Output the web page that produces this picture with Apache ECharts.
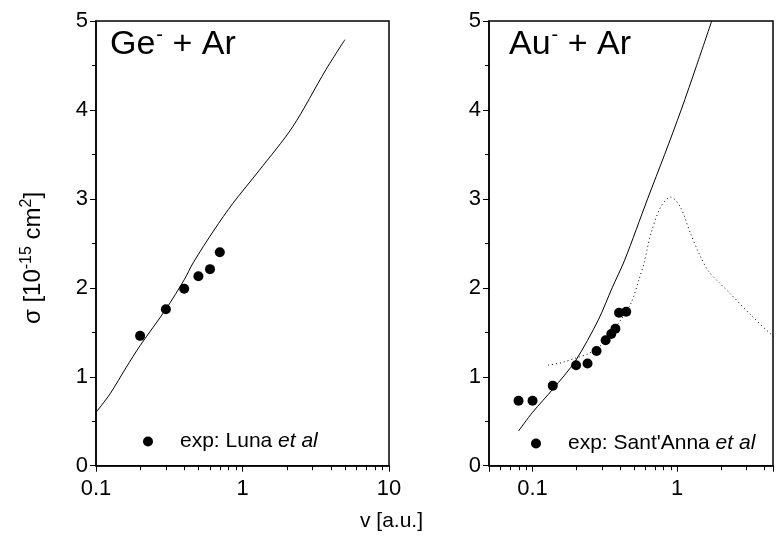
<!DOCTYPE html>
<html><head><meta charset="utf-8">
<script src="https://cdn.jsdelivr.net/npm/echarts@6/dist/echarts.min.js"></script>
<style>html,body{margin:0;padding:0;background:#fff}#c{width:776px;height:547px}</style>
</head><body><div id="c"></div>
<script>
// Ge- + Ar : theory (solid) and experiment (Luna et al)
const geTheoryV = [0.1, 0.125, 0.16, 0.2, 0.3, 0.4, 0.46, 0.64, 0.86, 1.3, 2.2, 3.7, 5];
const geTheoryS = [0.60, 0.81, 1.10, 1.35, 1.76, 2.09, 2.28, 2.65, 2.95, 3.32, 3.81, 4.45, 4.79];
const geExpV = [0.2, 0.3, 0.4, 0.5, 0.6, 0.7];
const geExpS = [1.46, 1.76, 1.99, 2.13, 2.21, 2.40];
// Au- + Ar : theory (solid), theory (dotted) and experiment (Sant'Anna et al)
const auTheoryV = [0.08, 0.1, 0.138, 0.198, 0.285, 0.355, 0.433, 0.624, 0.819, 1.065, 1.362, 1.732];
const auTheoryS = [0.39, 0.60, 0.86, 1.18, 1.64, 2.0, 2.31, 3.0, 3.5, 4.0, 4.5, 5.0];
const auDotV = [0.128, 0.16, 0.198, 0.244, 0.3, 0.35, 0.4, 0.48, 0.548, 0.59, 0.658, 0.77, 0.9, 1.05, 1.23, 1.44, 1.64, 2.0, 2.31, 3.16, 4.51, 5];
const auDotS = [1.13, 1.16, 1.21, 1.26, 1.36, 1.50, 1.62, 1.83, 2.11, 2.28, 2.61, 2.91, 3.02, 2.91, 2.62, 2.36, 2.19, 2.04, 1.94, 1.71, 1.47, 1.43];
const auExpV = [0.08, 0.1, 0.138, 0.2, 0.24, 0.277, 0.32, 0.35, 0.374, 0.396, 0.444];
const auExpS = [0.73, 0.73, 0.90, 1.13, 1.15, 1.29, 1.41, 1.48, 1.54, 1.72, 1.73];
// axis tick labels and minor tick positions
const yTickLabels = ['0', '1', '2', '3', '4', '5'];
const xTickLabels = ['0.1', '1', '10'];
const xMinorLeft = [0.2, 0.3, 0.4, 0.5, 0.6, 0.7, 0.8, 0.9, 2, 3, 4, 5, 6, 7, 8, 9];
const xMinorRight = [0.06, 0.07, 0.08, 0.09, 0.2, 0.3, 0.4, 0.5, 0.6, 0.7, 0.8, 0.9, 2, 3, 4];
const panelTitles = ['Ge', 'Au'];
const legendNames = ["exp: Luna ", "exp: Sant'Anna "];

const FONT = '"Liberation Sans", Arial, sans-serif';
const zip = (a, b) => a.map((v, i) => [v, b[i]]);

const chart = echarts.init(document.getElementById('c'), null, {renderer: 'canvas'});

function xAxisCfg(gi, min, max) {
  return {
    type: 'log', logBase: 10, gridIndex: gi, min: min, max: max,
    axisLine: {show: true, lineStyle: {color: '#000', width: 1.5}},
    axisTick: {show: true, inside: false, length: 6, lineStyle: {color: '#000', width: 1}},
    minorTick: {show: false},
    splitLine: {show: false}, minorSplitLine: {show: false},
    axisLabel: {
      fontFamily: FONT, fontSize: 22, color: '#000', margin: 12,
      formatter: v => {
        const s = xTickLabels.find(t => Math.abs(parseFloat(t) - v) < 1e-6);
        return s === undefined ? '' : s;
      }
    }
  };
}
function yAxisCfg(gi) {
  return {
    type: 'value', gridIndex: gi, min: 0, max: 5, interval: 1,
    axisLine: {show: true, lineStyle: {color: '#000', width: 1.5}},
    axisTick: {show: true, inside: false, length: 6, lineStyle: {color: '#000', width: 1}},
    minorTick: {show: true, splitNumber: 2, length: 4, lineStyle: {color: '#000', width: 1}},
    splitLine: {show: false},
    axisLabel: {fontFamily: FONT, fontSize: 22, color: '#000', margin: 8,
      formatter: v => yTickLabels[Math.round(v)]}
  };
}
function minorTicks(gi, vals) {
  return {
    type: 'custom', xAxisIndex: gi, yAxisIndex: gi, silent: true, clip: false, z: 5,
    data: vals.map(v => [v, 0]),
    renderItem: (params, api) => {
      const p = api.coord([api.value(0), api.value(1)]);
      const x = Math.round(p[0]) + 0.5;
      return {type: 'line', shape: {x1: x, y1: p[1], x2: x, y2: p[1] + 4.5},
              style: {stroke: '#000', lineWidth: 1}};
    }
  };
}
const titleRich = {
  a: {fontFamily: FONT, fontSize: 34, fontWeight: 'normal', color: '#000', lineHeight: 40},
  s: {fontFamily: FONT, fontSize: 20, fontWeight: 'normal', color: '#000', lineHeight: 20, verticalAlign: 'top', padding: [0, 0, 0, 1]}
};
const legRich = {
  n: {fontFamily: FONT, fontSize: 21, color: '#000', lineHeight: 24, padding: [0, 0, 0, 22]},
  i: {fontFamily: FONT, fontSize: 21, color: '#000', lineHeight: 24, fontStyle: 'italic'}
};
const yNameRich = {
  a: {fontFamily: FONT, fontSize: 24, color: '#000', lineHeight: 28},
  s: {fontFamily: FONT, fontSize: 16, color: '#000', lineHeight: 16, verticalAlign: 'top'}
};

chart.setOption({
  animation: false,
  backgroundColor: '#fff',
  grid: [
    {left: 96, top: 21, width: 293, height: 444.7, show: true, borderColor: '#000', borderWidth: 1.5, backgroundColor: 'transparent'},
    {left: 489, top: 21, width: 288, height: 444.7, show: true, borderColor: '#000', borderWidth: 1.5, backgroundColor: 'transparent'}
  ],
  title: [
    {text: '{a|' + panelTitles[0] + '}{s|-}{a| + Ar}', left: 110, top: 25, padding: 0, textStyle: {rich: titleRich}},
    {text: '{a|' + panelTitles[1] + '}{s|-}{a| + Ar}', left: 509, top: 25, padding: 0, textStyle: {rich: titleRich}}
  ],
  legend: [
    {data: [legendNames[0]], left: 143, top: 431, padding: 0, icon: 'circle', itemWidth: 10, itemHeight: 10,
     formatter: n => '{n|' + n + '}{i|et al}', textStyle: {rich: legRich}},
    {data: [legendNames[1]], left: 531, top: 433, padding: 0, icon: 'circle', itemWidth: 10, itemHeight: 10,
     formatter: n => '{n|' + n + '}{i|et al}', textStyle: {rich: legRich}}
  ],
  xAxis: [xAxisCfg(0, 0.1, 10), xAxisCfg(1, 0.05, 0.05 * Math.pow(10, 288 / 146.7))],
  yAxis: [yAxisCfg(0), yAxisCfg(1)],
  graphic: [
    {type: 'text', left: 360, top: 511, style: {text: 'v [a.u.]', font: '21px ' + FONT, fill: '#000'}},
    {type: 'text', x: 33, y: 258, rotation: Math.PI / 2,
     style: {text: '{a|σ [10}{s|-15}{a| cm}{s|2}{a|]}', align: 'center', verticalAlign: 'middle', rich: yNameRich}}
  ],
  series: [
    minorTicks(0, xMinorLeft),
    minorTicks(1, xMinorRight),
    {type: 'line', xAxisIndex: 0, yAxisIndex: 0, data: zip(geTheoryV, geTheoryS), showSymbol: false, smooth: 0.3,
     lineStyle: {color: '#000', width: 1}, silent: true},
    {name: legendNames[0], type: 'scatter', xAxisIndex: 0, yAxisIndex: 0, data: zip(geExpV, geExpS),
     symbol: 'circle', symbolSize: 10, itemStyle: {color: '#000', opacity: 1}},
    {type: 'line', xAxisIndex: 1, yAxisIndex: 1, data: zip(auTheoryV, auTheoryS), showSymbol: false, smooth: 0.3,
     lineStyle: {color: '#000', width: 1}, silent: true},
    {type: 'line', xAxisIndex: 1, yAxisIndex: 1, data: zip(auDotV, auDotS), showSymbol: false, smooth: 0.3,
     lineStyle: {color: '#000', width: 1, type: [1, 3]}, silent: true},
    {name: legendNames[1], type: 'scatter', xAxisIndex: 1, yAxisIndex: 1, data: zip(auExpV, auExpS),
     symbol: 'circle', symbolSize: 10, itemStyle: {color: '#000', opacity: 1}}
  ]
});
</script>
</body></html>
